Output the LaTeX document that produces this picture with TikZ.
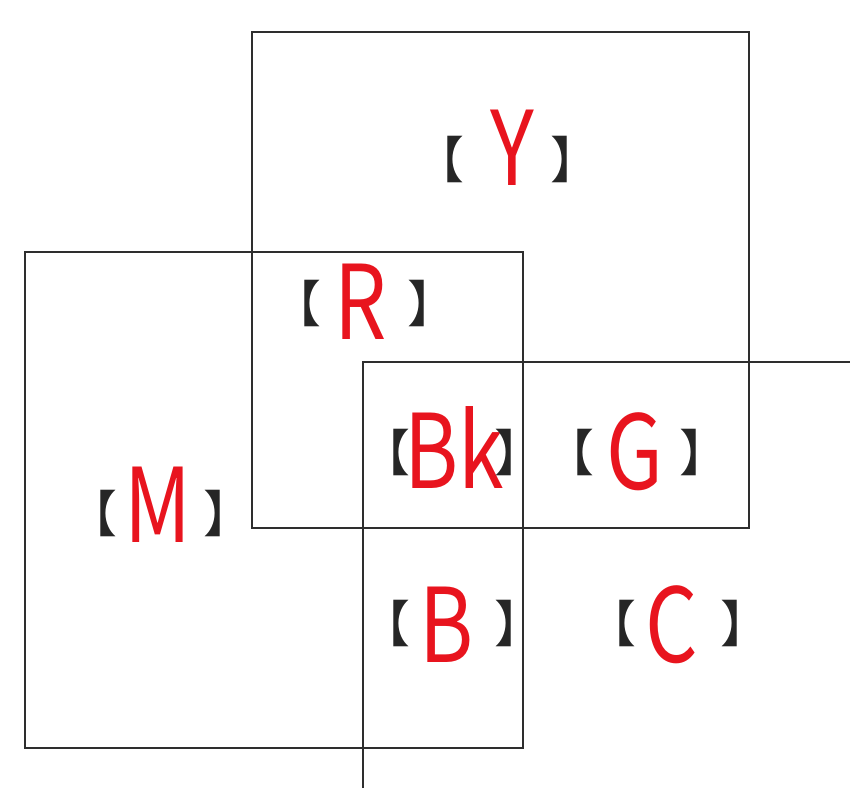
\documentclass[tikz,border=0pt]{standalone}
\usepackage{fontspec}
\newfontfamily\cjk{Noto Sans CJK JP}
\newfontfamily\letterfont[FakeStretch=0.8]{Noto Sans CJK JP}
\usepackage{tikz}
\definecolor{inkred}{HTML}{E8141E}
\definecolor{framegray}{HTML}{2E2E2E}

\begin{document}
\begin{tikzpicture}[x=1pt, y=-1pt,
    panel/.style={draw=framegray, line width=1.5pt},
    letter/.style={text=inkred, inner sep=0pt, font=\letterfont\fontsize{103}{103}\selectfont},
    brk/.style={text=black!85, inner sep=0pt, font=\cjk\fontsize{50}{50}\selectfont},
    brkl/.style={brk, xshift=-14pt},
    brkr/.style={brk, xshift=15pt},
]
    \useasboundingbox (0,0) rectangle (850,788);
    % the three panels
    \draw[panel] (252,32) rectangle (749,528);
    \draw[panel] (25,252) rectangle (523,748);
    \draw[panel] (363,788) -- (363,362) -- (850,362);
    % labels: name/x/y/letter/left bracket/right bracket/bracket y
    \foreach \n/\x/\y/\t/\bl/\br/\by in {
        Y/512/148/Y/453/560/159,
        R/361/302/R/310/417/303,
        Bk/454/447/Bk/399/504/452,
        G/635/452/G/583/689/452,
        M/158/505/M/106/213/513,
        B/447/625/B/399/504/623,
        C/672/625/C/625/730/623}{
        \node[letter] (\n) at (\x,\y) {\t};
        \node[brkl] (\n-l) at (\bl,\by) {【};
        \node[brkr] (\n-r) at (\br,\by) {】};
    }
\end{tikzpicture}
\end{document}
